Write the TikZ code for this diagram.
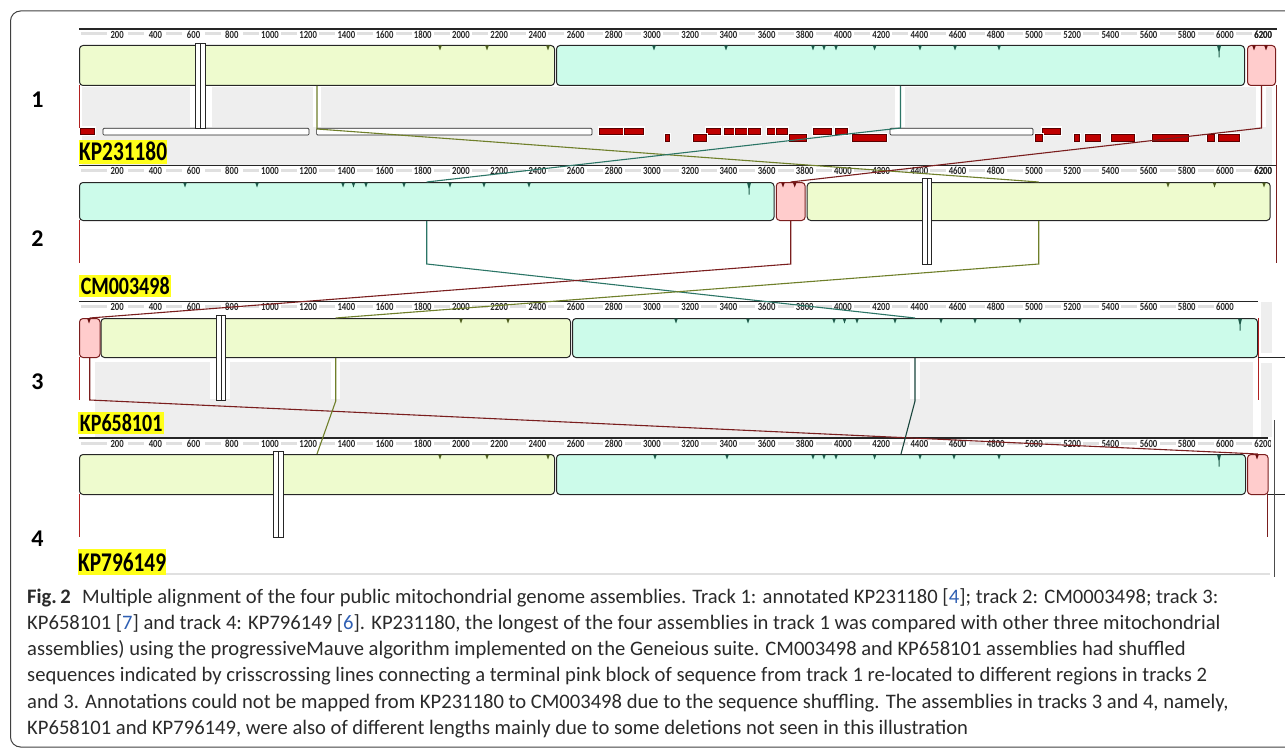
\documentclass[tikz,border=0pt]{standalone}
\usepackage{fontspec}
\setmainfont{Carlito}
\definecolor{lcbY}{HTML}{EEFBCE}
\definecolor{lcbC}{HTML}{CCFBEA}
\definecolor{lcbP}{HTML}{FFCCCC}
\definecolor{bgG}{HTML}{EEEEEE}
\definecolor{rulG}{HTML}{E0E0E0}
\definecolor{conY}{HTML}{6F7F2A}
\definecolor{conC}{HTML}{2B7566}
\definecolor{conP}{HTML}{7A1E1E}
\definecolor{annR}{HTML}{C00000}
\definecolor{annE}{HTML}{5A0000}
\definecolor{hl}{HTML}{FFFF1A}
\definecolor{refB}{HTML}{2F5FB3}
\definecolor{mkY}{HTML}{4F5F1F}
\definecolor{mkC}{HTML}{1D5A4A}
\definecolor{mkP}{HTML}{6A0E0E}
\definecolor{endR}{HTML}{B02020}
\definecolor{capT}{HTML}{2A2A2A}
\newcommand{\mrkS}[3]{\fill[#3] ({#1-1.8},#2) -- ({#1+1.8},#2) -- (#1,{#2+5}) -- cycle;}
\newcommand{\mrkL}[3]{\fill[#3] ({#1-2},#2) -- ({#1+2},#2) -- ({#1+0.5},{#2+6}) -- ({#1+0.5},{#2+12}) -- ({#1-0.5},{#2+12}) -- ({#1-0.5},{#2+6}) -- cycle;}
\newcommand{\tlab}[1]{\scalebox{1}[1.25]{#1}}
\begin{document}
\begin{tikzpicture}[x=1pt,y=-1pt,
  blk/.style={draw=black!85, line width=1pt, rounded corners=3.5pt, inner sep=0pt, anchor=north west},
  nbox/.style={draw=black!85, fill=white, line width=0.8pt, inner sep=0pt, anchor=north west},
  con/.style={line width=1.1pt},
  ann/.style={fill=annR, draw=annE, line width=0.5pt, preaction={draw=white, line width=3pt}},
  annw/.style={fill=white, draw=black!85, line width=0.7pt, rounded corners=1pt},
  tick/.style={font=\fontsize{8.7}{9}\selectfont\bfseries, text=black!85, inner sep=0pt},
  tnum/.style={font=\fontsize{24}{24}\selectfont\bfseries, inner sep=0pt},
  seqlab/.style={fill=hl, inner sep=0pt, anchor=north west, minimum height=24},
  captext/.style={font=\fontsize{20.6}{22}\selectfont, text=capT, inner sep=0pt, anchor=base west}
]
\useasboundingbox (0,0) rectangle (1285,749);
% outer frame
\draw[black!75, line width=1pt, rounded corners=10pt] (1320,11) -- (10.5,11) -- (10.5,747) -- (1320,747);

% grey backgrounds
\fill[bgG] (82,87) rectangle (1272,165);
\fill[white] (190,87) rectangle (212,127);
\fill[white] (312.5,87) rectangle (321,127);
\fill[white] (895,87) rectangle (905,127);
\fill[white] (1256,87) rectangle (1266,127);
\fill[bgG] (95,362) rectangle (1253,437);
\fill[bgG] (1261,302) rectangle (1272,353);
\fill[bgG] (1261,363) rectangle (1272,437);
\fill[white] (209.5,362) rectangle (230,399);
\fill[white] (331,362) rectangle (340,399);
\fill[white] (909.5,362) rectangle (920,399);
\draw[rulG, line width=2pt] (165,574) -- (1269.6,574);

% rulers
\foreach \yy/\last/\le in {29/6200/1277, 165.7/6200/1276, 301.7/6000/1258, 438/6000/1268} {
  \draw[black!85, line width=1.2pt] (79,\yy) -- (\le,\yy);
  \fill[rulG] (81,{\yy+3.5}) rectangle (107,{\yy+6.5});
  \pgfmathtruncatemacro\pen{\last-200}
  \foreach \p in {200,400,...,\pen} {
    \fill[rulG] ({79+0.191*\p+11},{\yy+3.5}) rectangle ({79+0.191*\p+27},{\yy+6.5});
  }
  \foreach \p in {200,400,...,\last} {
    \node[tick] (t\p) at ({79+0.191*\p},{\yy+5.5}) {\tlab{\p}};
  }
}
\node[tick] (r1end) at ({79+0.191*6200},34.5) {\tlab{6200}};
\node[tick] (r2end) at ({79+0.191*6200},171.2) {\tlab{6200}};
\fill[rulG] ({79+0.191*6000+11},{438+3.5}) rectangle ({79+0.191*6000+27},{438+6.5});
\begin{scope}
\clip (1240,438) rectangle (1270,452);
\node[tick] (r4end) at ({79+0.191*6200},443.5) {\tlab{6200}};
\end{scope}

% annotation row of track 1
\foreach \a/\b in {80/94.6, 599.6/624.5, 624.5/643, 706/720, 724/735, 735.5/748, 748.6/760.6, 767.6/776, 776.6/787, 813.7/831, 835/847, 1042/1060.6}
  {\draw[ann] (\a,128) rectangle (\b,134.3);}
\foreach \a/\b in {665.5/669, 693.5/706, 789/806, 852/886, 1035/1042, 1074.6/1079.5, 1085.7/1100, 1111/1134, 1152/1188.6, 1207/1214, 1218/1239.6}
  {\draw[ann] (\a,134.3) rectangle (\b,141);}
\foreach \a/\b in {103/309, 316.6/592, 890/1033}
  {\draw[annw] (\a,128.3) rectangle (\b,135);}

% blocks
\node[blk, fill=lcbY, minimum width=475, minimum height=40] (a1) at (79,45) {};
\node[blk, fill=lcbC, minimum width=688, minimum height=40] (a2) at (556,45) {};
\node[blk, fill=lcbP, minimum width=28, minimum height=40, draw=conP] (a3) at (1247,45) {};
\node[blk, fill=lcbC, minimum width=694.5, minimum height=38] (b1) at (79,182) {};
\node[blk, fill=lcbP, minimum width=28.8, minimum height=38, draw=conP] (b2) at (775.8,182) {};
\node[blk, fill=lcbY, minimum width=463, minimum height=38] (b3) at (806.7,182) {};
\node[blk, fill=lcbP, minimum width=20.5, minimum height=39, draw=conP] (c1) at (79,318) {};
\node[blk, fill=lcbY, minimum width=469.5, minimum height=39] (c2) at (100.5,318) {};
\node[blk, fill=lcbC, minimum width=685, minimum height=39] (c3) at (572,318) {};
\node[blk, fill=lcbY, minimum width=475, minimum height=40] (d1) at (79,454) {};
\node[blk, fill=lcbC, minimum width=689, minimum height=40] (d2) at (556,454) {};
\node[blk, fill=lcbP, minimum width=20.6, minimum height=40, draw=conP] (d3) at (1247,454) {};

% markers
\foreach \x in {440,487,548} {\mrkS{\x}{45.5}{mkY}}
\foreach \x in {654,726,813,824,836,874.6,920,955,999} {\mrkS{\x}{45.5}{mkC}}
\mrkL{1219}{45.5}{mkC}
\foreach \x in {1254,1266} {\mrkS{\x}{45.5}{mkP}}
\foreach \x in {185,343,353.5,366,404,450,484,529,257} {\mrkS{\x}{182.5}{mkC}}
\mrkL{749}{182.5}{mkC}
\foreach \x in {783,794.7} {\mrkS{\x}{182.5}{mkP}}
\foreach \x in {1168,1214.5,1264} {\mrkS{\x}{182.5}{mkY}}
\mrkS{89}{318.5}{mkP}
\foreach \x in {461,508} {\mrkS{\x}{318.5}{mkY}}
\foreach \x in {676,748,834,844.5,857,895,941,975,1020} {\mrkS{\x}{318.5}{mkC}}
\mrkL{1240}{318.5}{mkC}
\foreach \x in {440,487,548} {\mrkS{\x}{454.5}{mkY}}
\foreach \x in {655,727,813,824,836,874.6,920,954,999} {\mrkS{\x}{454.5}{mkC}}
\mrkL{1219}{454.5}{mkC}
\mrkS{1257}{454.5}{mkP}

% sequence end markers
\draw[endR, line width=0.8pt] (79,85) -- (79,128);
\draw[endR, line width=0.8pt] (79,220) -- (79,263);
\draw[endR, line width=0.8pt] (79,357) -- (79,400);
\draw[endR, line width=0.8pt] (79,494) -- (79,537);
\draw[conP, line width=1pt] (1276,85) -- (1276,263);
\draw[endR, line width=1pt] (1258,318) -- (1258,400);
\draw[conP, line width=1pt] (1267.6,494) -- (1267.6,537);
\draw[black!85, line width=1pt] (1258,357) -- (1285,357);
\draw[black!85, line width=1pt] (1268,494) -- (1285,494);
\draw[black!70, line width=1pt] (1274,420) -- (1274,577);

% connectors between tracks
\draw[con, conY] (a1.south) -- ++(0,43) -- (b3.north);
\draw[con, conC] (a2.south) -- ++(0,42) -- (b1.north);
\draw[con, conP] (a3.south) -- ++(0,42) -- (b2.north);
\draw[con, conC] (b1.south) -- ++(0,43) -- (c3.north);
\draw[con, conP] (b2.south) -- ++(0,43) -- (c1.north);
\draw[con, conY] (b3.south) -- ++(0,43) -- (c2.north);
\draw[con, conP] (c1.south) -- ++(0,42) -- (d3.north);
\draw[con, conY] (c2.south) -- ++(0,43) -- (d1.north);
\draw[con, conC!60!black] (c3.south) -- ++(0,43) -- (d2.north);

% narrow boxes
\node[nbox, minimum width=9.5, minimum height=85] (n1) at (195,43) {};
\draw[black!85, line width=0.7pt] (n1.north) -- (n1.south);
\node[nbox, minimum width=9, minimum height=86] (n2) at (922,178) {};
\draw[black!85, line width=0.7pt] (n2.north) -- (n2.south);
\node[nbox, minimum width=9, minimum height=85] (n3) at (216,315) {};
\draw[black!85, line width=0.7pt] (n3.north) -- (n3.south);
\node[nbox, minimum width=9.5, minimum height=86] (n4) at (273,451) {};
\draw[black!85, line width=0.7pt] (n4.north) -- (n4.south);

% track numbers
\node[tnum] (L1) at (37.5,100) {1};
\node[tnum] (L2) at (37.5,238.5) {2};
\node[tnum] (L3) at (37.5,382) {3};
\node[tnum] (L4) at (37.5,539) {4};

% sequence labels
\node[seqlab, minimum width=86] (s1) at (79,139.5) {\scalebox{0.79}[1]{\fontsize{27}{27}\selectfont\bfseries KP231180}};
\node[seqlab, minimum width=92, minimum height=22] (s2) at (79,275) {\scalebox{0.8}[1]{\fontsize{25}{25}\selectfont\bfseries CM003498}};
\node[seqlab, minimum width=86, minimum height=22] (s3) at (78,411.5) {\scalebox{0.8}[1]{\fontsize{25}{25}\selectfont\bfseries KP658101}};
\node[seqlab, minimum width=87, minimum height=26] (s4) at (78,549) {\scalebox{0.79}[1]{\fontsize{27}{27}\selectfont\bfseries KP796149}};

% caption
\node[captext] (c1t) at (27,603) {\textbf{Fig.\,2}\hspace{0.55em}Multiple alignment of the four public mitochondrial genome assemblies. Track 1: annotated KP231180 [\textcolor{refB}{4}]; track 2: CM0003498; track 3:};
\node[captext] (c2t) at (27,629.3) {KP658101 [\textcolor{refB}{7}] and track 4: KP796149 [\textcolor{refB}{6}]. KP231180, the longest of the four assemblies in track 1 was compared with other three mitochondrial};
\node[captext] (c3t) at (27,655.6) {assemblies) using the progressiveMauve algorithm implemented on the Geneious suite. CM003498 and KP658101 assemblies had shuffled};
\node[captext] (c4t) at (27,681.9) {sequences indicated by crisscrossing lines connecting a terminal pink block of sequence from track 1 re-located to different regions in tracks 2};
\node[captext] (c5t) at (27,708.2) {and 3. Annotations could not be mapped from KP231180 to CM003498 due to the sequence shuffling. The assemblies in tracks 3 and 4, namely,};
\node[captext] (c6t) at (27,734.5) {KP658101 and KP796149, were also of different lengths mainly due to some deletions not seen in this illustration};
\end{tikzpicture}
\end{document}
